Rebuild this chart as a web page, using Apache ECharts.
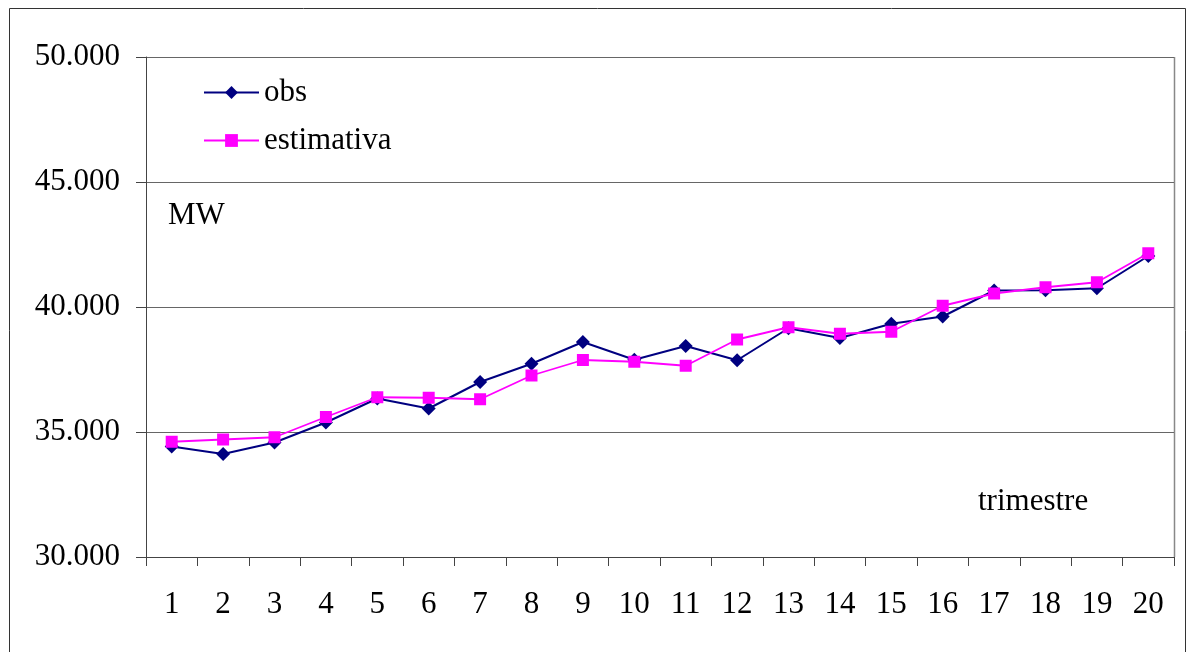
<!DOCTYPE html>
<html>
<head>
<meta charset="utf-8">
<script src="https://cdn.jsdelivr.net/npm/echarts@6/dist/echarts.min.js"></script>
<style>
html,body{margin:0;padding:0;background:#fff;}
#chart{width:1190px;height:652px;}
</style>
</head>
<body>
<div id="chart"></div>
<script>
const categories = ['1','2','3','4','5','6','7','8','9','10','11','12','13','14','15','16','17','18','19','20'];
const obs = [34420, 34120, 34580, 35380, 36340, 35940, 37000, 37730, 38600, 37890, 38440, 37870, 39150, 38760, 39330, 39620, 40660, 40670, 40750, 42040];
const estimativa = [34610, 34700, 34790, 35600, 36390, 36370, 36310, 37260, 37880, 37810, 37650, 38700, 39190, 38930, 39010, 40050, 40540, 40790, 40990, 42150];
const yTicks = {min: 30000, max: 50000, interval: 5000};

const FONT = '"Liberation Serif", "Times New Roman", serif';
const chart = echarts.init(document.getElementById('chart'));
chart.setOption({
  animation: false,
  backgroundColor: '#ffffff',
  textStyle: {fontFamily: FONT},
  grid: {left: 146, right: 16, top: 57, bottom: 95, show: true, borderColor: '#888', borderWidth: 0},
  legend: {
    orient: 'vertical',
    left: 203,
    top: 77,
    padding: 0,
    itemWidth: 55,
    itemHeight: 16,
    itemGap: 17,
    textStyle: {fontFamily: FONT, fontSize: 31, color: '#000'},
    data: ['obs', 'estimativa']
  },
  xAxis: {
    type: 'category',
    data: categories,
    boundaryGap: true,
    axisLine: {lineStyle: {color: '#444', width: 1}},
    axisTick: {show: true, length: 9, lineStyle: {color: '#444'}},
    axisLabel: {fontFamily: FONT, fontSize: 31, color: '#000', margin: 32}
  },
  yAxis: {
    type: 'value',
    min: yTicks.min, max: yTicks.max, interval: yTicks.interval,
    axisLine: {show: true, lineStyle: {color: '#444', width: 1}},
    axisTick: {show: true, length: 10, lineStyle: {color: '#444'}},
    splitLine: {show: true, lineStyle: {color: '#666', width: 1}},
    axisLabel: {fontFamily: FONT, fontSize: 31, color: '#000', margin: 26,
      formatter: v => (v / 1000).toFixed(3)}
  },
  graphic: [
    {type: 'rect', left: 7, top: 6, shape: {width: 1176, height: 660},
      style: {fill: 'none', stroke: '#333', lineWidth: 1}, silent: true},
    {type: 'line', shape: {x1: 1174.5, y1: 57, x2: 1174.5, y2: 557},
      style: {stroke: '#888', lineWidth: 1.5}, silent: true},
    {type: 'text', left: 168, top: 200,
      style: {text: 'MW', font: '31px ' + FONT, fill: '#000'}},
    {type: 'text', left: 978, top: 486,
      style: {text: 'trimestre', font: '31px ' + FONT, fill: '#000'}}
  ],
  series: [
    {
      name: 'obs', type: 'line', data: obs,
      symbol: 'diamond', symbolSize: 14,
      lineStyle: {color: '#000080', width: 2},
      itemStyle: {color: '#000080'},
      z: 3
    },
    {
      name: 'estimativa', type: 'line', data: estimativa,
      symbol: 'rect', symbolSize: 12,
      lineStyle: {color: '#ff00ff', width: 1.8},
      itemStyle: {color: '#ff00ff'},
      z: 4
    }
  ]
});
</script>
</body>
</html>
